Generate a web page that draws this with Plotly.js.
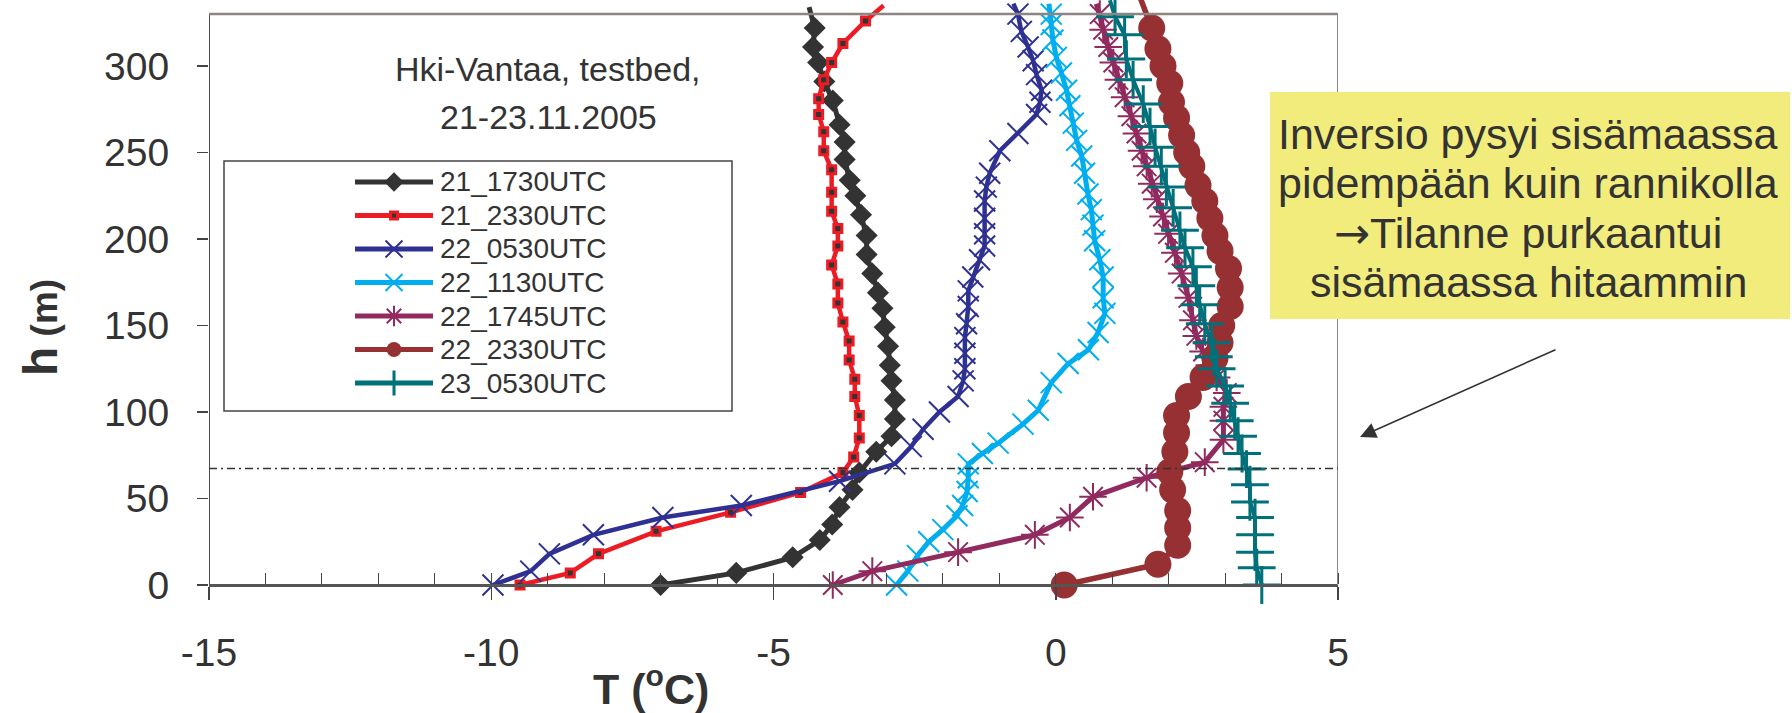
<!DOCTYPE html>
<html>
<head>
<meta charset="utf-8">
<script src="https://cdn.plot.ly/plotly-3.0.1.min.js"></script>
<style>
  html, body { margin: 0; padding: 0; background: #ffffff; }
  #chart { width: 1792px; height: 713px; }
</style>
</head>
<body>
<div id="chart"></div>
<script>
// Temperature soundings (T in °C, h in m), Helsinki-Vantaa testbed
const seriesNames = ['21_1730UTC', '21_2330UTC', '22_0530UTC', '22_1130UTC', '22_1745UTC', '22_2330UTC', '23_0530UTC'];

const temp_21_1730 = [-7.0, -5.66, -4.66, -4.18, -3.96, -3.83, -3.60, -3.48, -3.18, -2.91, -2.85, -2.85, -2.91, -2.94, -2.97, -3.03, -3.07, -3.15, -3.25, -3.35, -3.35, -3.45, -3.55, -3.65, -3.74, -3.74, -3.83, -3.95, -4.10, -4.21, -4.30, -4.27, -4.37];
const height_21_1730 = [0, 7, 16, 26, 35, 45, 55, 65, 77, 86, 96, 107, 118, 127, 138, 149, 160, 169, 180, 191, 202, 214, 225, 234, 246, 256, 266, 280, 291, 302, 311, 322, 334];

const temp_21_2330 = [-9.49, -8.60, -8.10, -7.08, -5.76, -4.52, -3.77, -3.58, -3.48, -3.48, -3.56, -3.56, -3.66, -3.66, -3.77, -3.86, -3.86, -3.97, -3.86, -3.86, -3.97, -3.97, -3.97, -4.11, -4.11, -4.20, -4.20, -4.11, -3.97, -3.77, -3.37, -3.05];
const height_21_2330 = [0, 7, 18, 31, 42, 53.5, 65, 74, 85, 98, 109, 119, 130, 141, 152, 163, 174, 185, 196, 206, 216, 227, 240, 251, 262, 272, 281, 292, 302, 313, 326, 335];

const temp_22_0530 = [-9.97, -9.30, -8.97, -8.19, -6.96, -5.57, -3.83, -2.85, -2.56, -2.35, -2.06, -1.73, -1.64, -1.61, -1.61, -1.61, -1.58, -1.55, -1.55, -1.47, -1.35, -1.26, -1.26, -1.26, -1.26, -1.23, -1.17, -0.99, -0.67, -0.34, -0.28, -0.25, -0.34, -0.40, -0.49, -0.61, -0.67, -0.75];
const height_22_0530 = [0, 8, 18, 29, 39, 46, 60, 70, 80, 90, 100, 109, 118, 125, 134, 143, 151, 161, 170, 178, 188, 196, 203, 212, 222, 230, 238, 251, 261, 272, 279, 286, 295, 303, 311, 320, 330, 336];

const temp_22_1130 = [-2.82, -2.62, -2.45, -2.25, -2.0, -1.75, -1.65, -1.57, -1.55, -1.55, -1.30, -1.02, -0.58, -0.31, -0.08, 0.22, 0.58, 0.75, 0.87, 0.84, 0.84, 0.78, 0.69, 0.66, 0.63, 0.57, 0.51, 0.46, 0.37, 0.31, 0.25, 0.19, 0.10, 0.01, -0.05, -0.08, -0.08, -0.12];
const height_22_1130 = [0, 8, 17, 25, 32, 40, 46, 54, 62, 70, 76, 82, 93, 101, 117, 128, 136, 146, 157, 166, 178, 188, 199, 208, 217, 226, 238, 248, 257, 267, 277, 286, 296, 305, 315, 324, 330, 336];

const temp_22_1745 = [-3.95, -3.25, -1.73, -0.37, 0.25, 0.66, 1.61, 2.64, 2.97, 2.97, 2.97, 3.03, 2.85, 2.72, 2.61, 2.49, 2.43, 2.35, 2.23, 2.11, 1.99, 1.90, 1.79, 1.70, 1.61, 1.52, 1.43, 1.34, 1.22, 1.11, 1.02, 0.93, 0.84, 0.78, 0.72];
const height_22_1745 = [0, 8, 19, 29, 39, 51, 62, 71, 84, 95, 103, 111, 120, 127, 135, 144, 153, 166, 180, 192, 203, 213, 223, 232, 242, 251, 261, 271, 282, 292, 302, 311, 321, 330, 336];

const temp_22_2330 = [0.15, 1.81, 2.16, 2.16, 2.16, 2.07, 2.02, 2.11, 2.14, 2.14, 2.35, 2.61, 2.82, 2.91, 2.94, 3.09, 3.09, 3.06, 2.91, 2.82, 2.73, 2.64, 2.52, 2.41, 2.32, 2.23, 2.14, 2.05, 2.02, 1.90, 1.81, 1.70, 1.49];
const height_22_2330 = [0, 12, 23, 33, 43, 55, 65.5, 77, 88, 98, 109, 120, 131, 140, 150, 161, 172, 183, 193, 202, 212, 222, 231, 242, 250, 260, 270, 279, 290, 300, 310, 322, 340];

const temp_23_0530 = [3.65, 3.56, 3.53, 3.53, 3.53, 3.44, 3.44, 3.38, 3.30, 3.23, 3.17, 3.09, 3.00, 2.85, 2.80, 2.76, 2.64, 2.55, 2.49, 2.43, 2.29, 2.20, 2.08, 1.96, 1.87, 1.76, 1.67, 1.55, 1.37, 1.25, 1.22, 1.05, 0.96];
const height_23_0530 = [0, 10, 19, 29, 39, 48, 58, 67, 76, 86, 95, 105, 115, 125, 132, 140, 151, 162, 173, 184, 195, 205, 218, 230, 242, 253, 265, 278, 292, 304, 318, 328.5, 338];

// Height of the dash-dot reference line (m)
const inversionHeight = 67.3;

// Axis ticks
const xTickVals = [-15, -10, -5, 0, 5];
const xTickText = ['-15', '-10', '-5', '0', '5'];
const yTickVals = [0, 50, 100, 150, 200, 250, 300];

const titleLines = ['Hki-Vantaa, testbed,', '21-23.11.2005'];
const noteLines = ['Inversio pysyi sisämaassa', 'pidempään kuin rannikolla',
  "<span style='font-family:DejaVu Sans'>\u2192</span>Tilanne purkaantui", 'sisämaassa hitaammin'];

const temps = [temp_21_1730, temp_21_2330, temp_22_0530, temp_22_1130, temp_22_1745, temp_22_2330, temp_23_0530];
const heights = [height_21_1730, height_21_2330, height_22_0530, height_22_1130, height_22_1745, height_22_2330, height_23_0530];

const FONT = 'Liberation Sans, Arial, Helvetica, sans-serif';
const TEXT = '#333333';
const W = 1792, H = 713;
const px = v => v / W;          // pixel -> paper x
const py = v => 1 - v / H;      // pixel -> paper y

const styles = [
  { color: '#333333', width: 5,   symbol: 'diamond',         size: 17, legSize: 15 },
  { color: '#ed1c24', width: 4.5, symbol: 'square',          size: 8,  legSize: 7,  fill: '#333333', mlw: 3 },
  { color: '#2e3192', width: 4.5, symbol: 'x-thin-open',     size: 21, legSize: 17, mlw: 2 },
  { color: '#00aeef', width: 5,   symbol: 'x-thin-open',     size: 21, legSize: 17, mlw: 2 },
  { color: '#912a5e', width: 5,   symbol: 'asterisk-open',   size: 23, legSize: 17, mlw: 2 },
  { color: '#963032', width: 5.5, symbol: 'circle',          size: 27, legSize: 15 },
  { color: '#00707a', width: 4,   symbol: 'cross-thin-open', size: 27, legSize: 18, mlw: 3 }
];

const topH = 330;   // top of the framed plot box (m)

const traces = [];
seriesNames.forEach((name, i) => {
  const s = styles[i];
  traces.push({
    type: 'scatter', mode: 'lines+markers', name: name,
    x: temps[i], y: heights[i], xaxis: 'x', yaxis: 'y',
    cliponaxis: false, showlegend: false, hoverinfo: 'skip',
    line: { color: s.color, width: s.width },
    marker: {
      symbol: s.symbol, opacity: 1,
      size: heights[i].map(h => (h <= topH + 1 ? s.size : 0)),
      color: s.fill || s.color,
      line: { width: s.mlw || 0, color: s.color }
    }
  });
});

// Legend rows drawn on a small helper subplot
seriesNames.forEach((name, i) => {
  const s = styles[i];
  traces.push({
    type: 'scatter', mode: 'lines+markers',
    x: [0, 0.5, 1], y: [i, i, i], xaxis: 'x2', yaxis: 'y2',
    cliponaxis: false, showlegend: false, hoverinfo: 'skip',
    line: { color: s.color, width: 5 },
    marker: {
      symbol: s.symbol, opacity: 1, size: [0, s.legSize, 0],
      color: s.fill || s.color,
      line: { width: s.mlw || 0, color: s.color }
    }
  });
});

// Plot box geometry (pixels)
const plotLeft = 209, plotRight = 1338, yZero = 585, pxPerM = 1.73;
const yBottom = -4, yTop = yZero / pxPerM;
const domBottom = py(yZero - yBottom * pxPerM);

const minorVals = [];
for (let v = -15; v <= 5; v += 1) minorVals.push(v);

const annotations = [];
titleLines.forEach((t, k) => annotations.push({
  xref: 'paper', yref: 'paper', x: px(548), y: py(69 + k * 48),
  xanchor: 'center', yanchor: 'middle', showarrow: false,
  text: t, font: { family: FONT, size: 34, color: TEXT }
}));
noteLines.forEach((t, k) => annotations.push({
  xref: 'paper', yref: 'paper', x: px(1528), y: py(134 + k * 49.5),
  xanchor: 'center', yanchor: 'middle', showarrow: false,
  text: t, font: { family: FONT, size: 43, color: TEXT }
}));
seriesNames.forEach((name, i) => annotations.push({
  xref: 'paper', yref: 'y2', x: px(438), y: i,
  xanchor: 'left', yanchor: 'middle', showarrow: false,
  text: name, font: { family: FONT, size: 28, color: TEXT }
}));
// axis titles
annotations.push({
  xref: 'paper', yref: 'paper', x: px(651), y: py(686),
  xanchor: 'center', yanchor: 'middle', showarrow: false,
  text: '<b>T (<sup>o</sup>C)</b>', font: { family: FONT, size: 43, color: TEXT }
});
annotations.push({
  xref: 'paper', yref: 'paper', x: px(40), y: py(328),
  xanchor: 'center', yanchor: 'middle', showarrow: false, textangle: -90,
  text: "<b><span style='font-size:48px'>h</span> (m)</b>", font: { family: FONT, size: 37, color: TEXT }
});
// pointer arrow
annotations.push({
  xref: 'paper', yref: 'paper', x: px(1360), y: py(437),
  ax: 197, ay: -88, axref: 'pixel', ayref: 'pixel',
  showarrow: true, text: '', arrowhead: 2, arrowsize: 2, arrowwidth: 1.6,
  arrowcolor: '#333333', standoff: 0, startstandoff: 0
});

const shapes = [
  // legend frame
  { type: 'rect', xref: 'paper', yref: 'paper', layer: 'below',
    x0: px(224), x1: px(732), y0: py(411), y1: py(161),
    line: { color: '#444444', width: 1.5 }, fillcolor: '#ffffff' },
  // plot frame
  { type: 'line', xref: 'x', yref: 'y', x0: -15, x1: -15, y0: 0, y1: topH, line: { color: '#4d4d4d', width: 2 } },
  { type: 'line', xref: 'x', yref: 'y', x0: -15, x1: 5, y0: topH, y1: topH, line: { color: '#8d8582', width: 2.5 } },
  { type: 'line', xref: 'x', yref: 'y', x0: 5, x1: 5, y0: 0, y1: topH, line: { color: '#8d8582', width: 2 } },
  // dash-dot reference line
  { type: 'line', xref: 'x', yref: 'y', x0: -15, x1: 5.1, y0: inversionHeight, y1: inversionHeight,
    line: { color: '#333333', width: 1.5, dash: '8px,4px,2px,4px' } },
  // note box
  { type: 'rect', xref: 'paper', yref: 'paper', layer: 'above',
    x0: px(1270), x1: px(1790), y0: py(319), y1: py(92),
    line: { width: 0 }, fillcolor: '#f1ec7b' }
];

const layout = {
  width: W, height: H,
  margin: { l: 0, r: 0, t: 0, b: 0 },
  paper_bgcolor: '#ffffff', plot_bgcolor: 'rgba(0,0,0,0)',
  showlegend: false, hovermode: false,
  font: { family: FONT, color: TEXT },
  xaxis: {
    domain: [px(plotLeft), px(plotRight)], range: [-15, 5],
    anchor: 'free', position: py(yZero),
    showgrid: false, zeroline: false,
    showline: true, linecolor: '#555555', linewidth: 2.5,
    tickmode: 'array', tickvals: xTickVals, ticktext: xTickText,
    ticks: 'outside', ticklen: 13, tickwidth: 1.5, tickcolor: '#444444',
    minor: { tickmode: 'array', tickvals: minorVals, ticks: 'inside', ticklen: 11, tickwidth: 1, tickcolor: '#444444', showgrid: false },
    tickfont: { family: FONT, size: 39, color: TEXT },
    ticklabelstandoff: 20
  },
  yaxis: {
    domain: [domBottom, 1], range: [yBottom, yTop],
    anchor: 'x', showgrid: false, zeroline: false, showline: false,
    tickmode: 'array', tickvals: yTickVals,
    ticks: 'outside', ticklen: 11, tickwidth: 1.5, tickcolor: '#444444',
    tickfont: { family: FONT, size: 39, color: TEXT },
    ticklabelstandoff: 20
  },
  xaxis2: { domain: [px(355), px(433)], range: [0, 1], anchor: 'y2', visible: false, fixedrange: true },
  yaxis2: { domain: [py(399.75), py(165.25)], range: [6.5, -0.5], anchor: 'x2', visible: false, fixedrange: true },
  shapes: shapes,
  annotations: annotations
};

Plotly.newPlot('chart', traces, layout, { displayModeBar: false, staticPlot: true });
</script>
</body>
</html>
